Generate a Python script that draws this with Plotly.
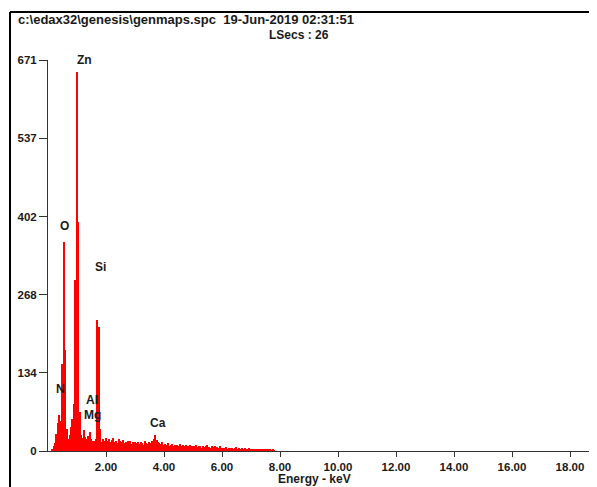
import numpy as np
import plotly.graph_objects as go

# EDS spectrum: counts per 0.05 keV channel, first channel centred at 0.15 keV
channel_start = 0.15
channel_width = 0.05
counts_low = [3, 8, 14, 30, 48, 62, 52, 150, 359, 173, 38, 20, 28, 42, 55, 80, 293, 650, 393, 67,
              28, 22, 36, 24, 20, 25, 33, 21, 18, 17, 20, 224, 213, 38, 15, 21, 18, 22]
counts_2_3 = [17, 20, 15, 19, 22, 16, 18, 14, 20, 17, 15, 19, 13, 16, 18, 14, 17, 12, 15, 16]
counts_3_4 = [13, 15, 12, 16, 14, 11, 17, 13, 12, 15, 14, 18, 20, 27, 19, 16, 14, 12, 15, 11]
counts_4_5 = [12, 10, 13, 9, 11, 12, 8, 10, 11, 9, 12, 8, 10, 9, 11, 7, 9, 10, 8, 9]
counts_5_6 = [8, 10, 7, 9, 8, 6, 9, 7, 8, 10, 7, 6, 8, 7, 9, 6, 7, 5, 8, 6]
counts_6_7 = [6, 5, 7, 4, 6, 5, 6, 4, 5, 7, 4, 5, 3, 6, 4, 5, 4, 3, 5, 4]
counts_7_8 = [3, 4, 3, 2, 4, 3, 2, 3, 2, 3, 2, 2, 3, 1, 2, 1]

counts = counts_low + counts_2_3 + counts_3_4 + counts_4_5 + counts_5_6 + counts_6_7 + counts_7_8
energy = channel_start + channel_width * np.arange(len(counts))

# Axis ticks
x_ticks = [2, 4, 6, 8, 10, 12, 14, 16, 18]
x_tick_labels = ["2.00", "4.00", "6.00", "8.00", "10.00", "12.00", "14.00", "16.00", "18.00"]
y_ticks = [0, 134, 268, 402, 537, 671]

# Element labels (text, energy keV, counts)
elements = ["Zn", "O", "Si", "N", "Al", "Mg", "Ca"]
element_x = [1.25, 0.56, 1.80, 0.42, 1.52, 1.52, 3.81]
element_y = [671, 386, 316, 106, 87, 62, 48]

title_line1 = "c:\\edax32\\genesis\\genmaps.spc  19-Jun-2019 02:31:51"
title_line2 = "LSecs : 26"
x_title = "Energy - keV"

FONT = "Liberation Sans, Arial, sans-serif"
TXT = "#1a1a1a"

fig = go.Figure()
fig.add_trace(go.Bar(
    x=energy, y=counts, width=channel_width,
    marker=dict(color="#ff0000", line=dict(width=0)),
    hoverinfo="x+y", showlegend=False,
))

for name, ex, ey in zip(elements, element_x, element_y):
    fig.add_annotation(x=ex, y=ey, text="<b>%s</b>" % name, showarrow=False,
                       xref="x", yref="y", font=dict(family=FONT, size=12, color=TXT))

fig.add_annotation(x=-0.057, y=(451 - 19) / 391, xref="paper", yref="paper", text="<b>%s</b>" % title_line1,
                   showarrow=False, xanchor="left", yanchor="middle", borderpad=0,
                   font=dict(family=FONT, size=13, color=TXT))
fig.add_annotation(x=0.5137, y=(451 - 35) / 391, xref="paper", yref="paper", text="<b>%s</b>" % title_line2,
                   showarrow=False, xanchor="right", yanchor="middle", borderpad=0,
                   font=dict(family=FONT, size=12, color=TXT))
fig.add_annotation(x=0.485, y=(451 - 479) / 391, xref="paper", yref="paper", text="<b>%s</b>" % x_title,
                   showarrow=False, xanchor="center", yanchor="middle", borderpad=0,
                   font=dict(family=FONT, size=12, color=TXT))

# Outer frame (left and top)
fig.add_shape(type="line", xref="paper", yref="paper", x0=-0.0692, x1=-0.0692, y0=1.1228, y1=-0.2,
              line=dict(color="black", width=2))
fig.add_shape(type="line", xref="paper", yref="paper", x0=-0.0692, x1=1.05, y0=1.1228, y1=1.1228,
              line=dict(color="black", width=2))

fig.update_layout(
    width=589, height=479,
    margin=dict(l=40, r=0, t=52, b=36),
    paper_bgcolor="white", plot_bgcolor="white",
    bargap=0,
    font=dict(family=FONT, color=TXT),
    xaxis=dict(
        range=[0, 549 / 29.0], tickvals=x_ticks, ticktext=["<b>%s</b>" % t for t in x_tick_labels],
        ticks="outside", ticklen=5, tickcolor="#333", showline=True, linecolor="#333", linewidth=1,
        showgrid=False, zeroline=False, tickfont=dict(size=11.5, color=TXT),
    ),
    yaxis=dict(
        range=[0, 671], tickvals=y_ticks, ticktext=["<b>%d</b>" % v for v in y_ticks],
        ticks="outside", ticklen=8, tickcolor="#333", showline=True, linecolor="#333", linewidth=1,
        showgrid=False, zeroline=False, tickfont=dict(size=11.5, color=TXT),
    ),
)

fig.write_html("out.html")
